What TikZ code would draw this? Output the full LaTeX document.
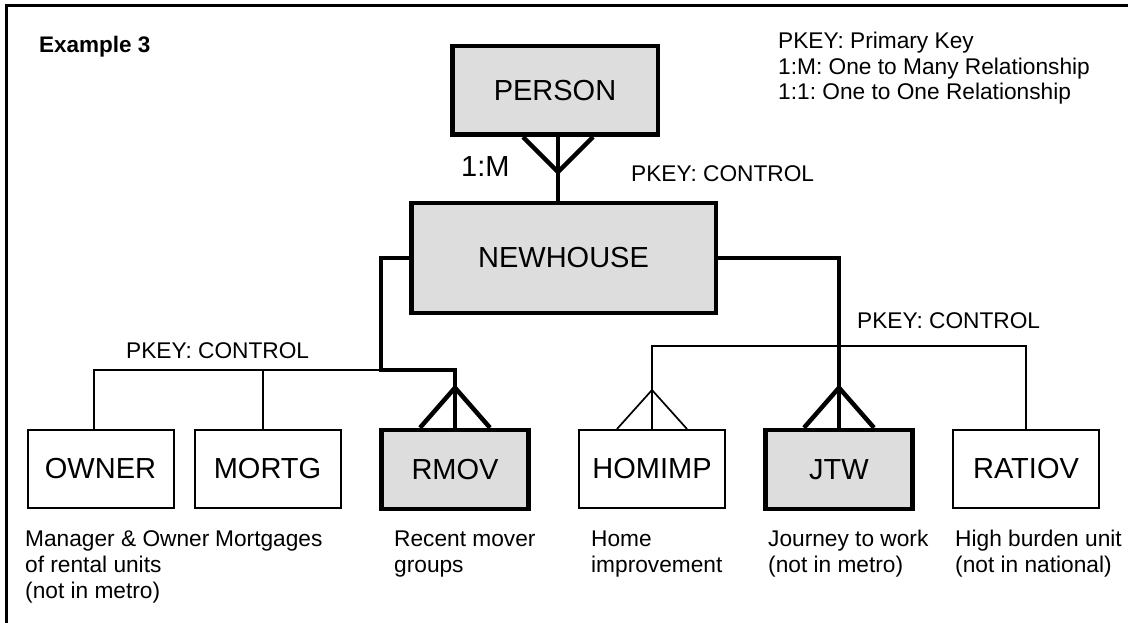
\documentclass[tikz,border=0pt]{standalone}
\usepackage{fontspec}
\setmainfont{Liberation Sans}
\usetikzlibrary{calc}
\definecolor{boxgray}{HTML}{DDDDDD}
\begin{document}
\frenchspacing
\begin{tikzpicture}[x=1pt,y=-1pt,
  big/.style={font=\fontsize{29}{33}\selectfont},
  small/.style={font=\fontsize{22.7}{26}\selectfont},
  thickbox/.style={draw, line width=4.5pt, fill=boxgray, minimum width=147pt, minimum height=79pt, inner sep=0pt, big},
  thinbox/.style={draw, line width=2pt, fill=white, minimum width=146pt, minimum height=78pt, inner sep=0pt, big},
  thickline/.style={line width=4.5pt},
  thinline/.style={line width=1.7pt},
  lbl/.style={small, inner sep=0pt, anchor=base west, align=left},
]
\useasboundingbox (0,0) rectangle (1128,623);
% frame
\draw[line width=3pt] (6,640) -- (6,6) -- (1140,6);

% boxes
\node[thickbox, minimum width=205.5pt, minimum height=88.5pt] (person) at (555,90.5) {PERSON};
\node[thickbox, minimum width=304.5pt, minimum height=109.5pt] (newhouse) at (563.5,258) {NEWHOUSE};
\node[thinbox] (owner) at (100.5,469) {OWNER};
\node[thinbox] (mortg) at (267.5,469) {MORTG};
\node[thickbox] (rmov) at (455,469.5) {RMOV};
\node[thinbox] (homimp) at (652,469) {HOMIMP};
\node[thickbox] (jtw) at (839,469.5) {JTW};
\node[thinbox] (ratiov) at (1026,469) {RATIOV};

% PERSON -- NEWHOUSE (1:M)
\coordinate (pv) at (558,172);
\draw[thickline] (pv |- person.south) -- (pv |- newhouse.north);
\draw[thickline] ($(pv |- person.south)+(-35,0)$) -- (pv) -- ($(pv |- person.south)+(35,0)$);

% left branch
\coordinate (lj) at (381,370);
\coordinate (od) at (94,370);
\coordinate (md) at (263,370);
\draw[thickline] (newhouse.west) -| (lj) -| (rmov.north);
\draw[thickline] ($(rmov.north)+(-35,0)$) -- ($(rmov.north)+(0,-40)$) -- ($(rmov.north)+(35,0)$);
\draw[thinline] (lj) -- (od) -- (od |- owner.north);
\draw[thinline] (md) -- (md |- mortg.north);

% right branch
\coordinate (rbar) at (0,346);
\draw[thickline] (newhouse.east) -| (jtw.north);
\draw[thickline] ($(jtw.north)+(-35,0)$) -- ($(jtw.north)+(0,-40)$) -- ($(jtw.north)+(35,0)$);
\draw[thinline] (homimp.north) |- (rbar -| ratiov.north) -- (ratiov.north);
\draw[thinline] ($(homimp.north)+(-35,0)$) -- ($(homimp.north)+(0,-39)$) -- ($(homimp.north)+(35,0)$);

% labels (base anchor of a multi-line node = baseline of its last line)
\node[lbl, font=\fontsize{22.5}{26}\selectfont\bfseries] (ex) at (39,53) {Example 3};
\node[lbl, font=\fontsize{22.7}{25.5}\selectfont] (legend) at (778,100) {PKEY: Primary Key\\1:M: One to Many Relationship\\1:1: One to One Relationship};
\node[big, anchor=base west, inner sep=0pt] (m1) at (461,177) {1:M};
\node[lbl] (pk1) at (631,182) {PKEY: CONTROL};
\node[lbl] (pk2) at (126,358) {PKEY: CONTROL};
\node[lbl] (pk3) at (857,328) {PKEY: CONTROL};

\node[lbl] (d1) at (25,598) {Manager \& Owner\\of rental units\\(not in metro)};
\node[lbl] (d2) at (215,546) {Mortgages};
\node[lbl] (d3) at (394,572) {Recent mover\\groups};
\node[lbl] (d4) at (591,572) {Home\\improvement};
\node[lbl] (d5) at (768,572) {Journey to work\\(not in metro)};
\node[lbl] (d6) at (955,572) {High burden unit\\(not in national)};
\end{tikzpicture}
\end{document}
